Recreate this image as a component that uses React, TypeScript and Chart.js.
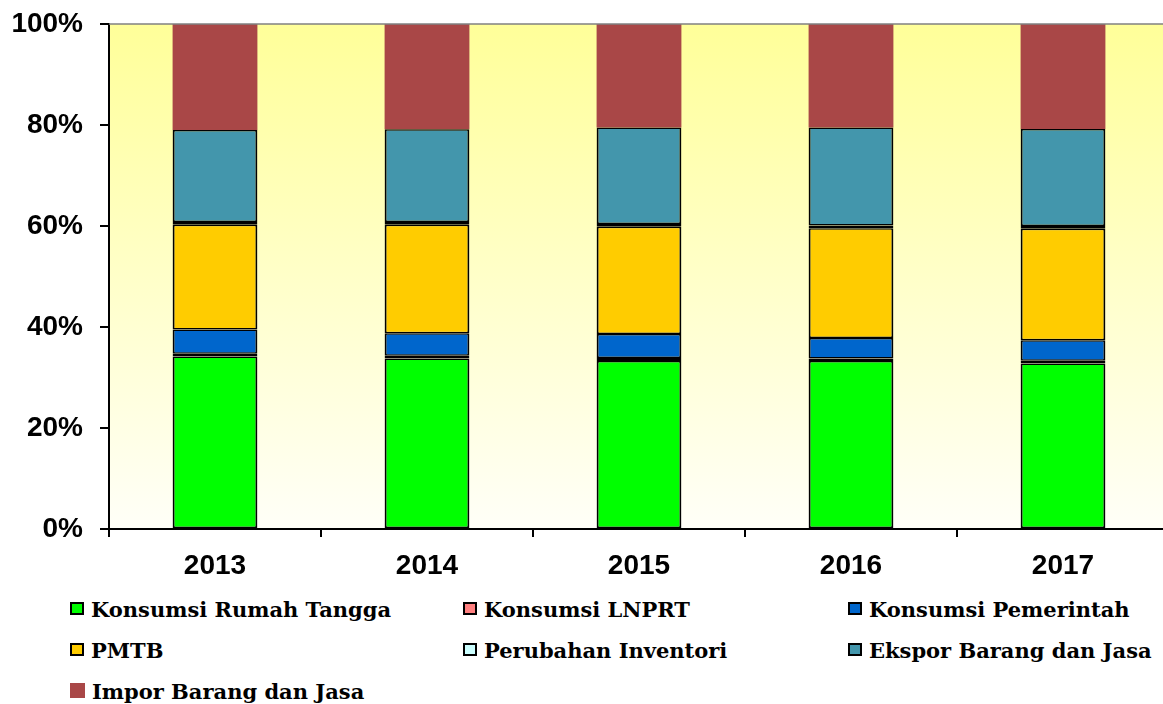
import React, { useEffect, useRef } from "react";
import { Chart, registerables } from "chart.js";

Chart.register(...registerables);

const years = ["2013", "2014", "2015", "2016", "2017"];
const rumahTangga = [34.15, 33.75, 33.25, 33.25, 32.75];
const lnprt = [0.55, 0.55, 0.6, 0.5, 0.55];
const pemerintah = [4.8, 4.45, 4.75, 4.05, 4.1];
const pmtb = [20.75, 21.5, 21.25, 21.75, 22.05];
const inventori = [0.55, 0.55, 0.55, 0.55, 0.55];
const ekspor = [18.2, 18.35, 19.1, 19.4, 19.2];
const impor = [21.0, 20.85, 20.5, 20.5, 20.8];
const yTicks = [0, 20, 40, 60, 80, 100];

const seriesNames = [
  "Konsumsi Rumah Tangga",
  "Konsumsi LNPRT",
  "Konsumsi Pemerintah",
  "PMTB",
  "Perubahan Inventori",
  "Ekspor Barang dan Jasa",
  "Impor Barang dan Jasa",
];
const seriesData = [rumahTangga, lnprt, pemerintah, pmtb, inventori, ekspor, impor];
const seriesColors = ["#00FF00", "#FF8080", "#0066CC", "#FFCC00", "#CCFFFF", "#4396AC", "#A94747"];
const seriesBorder = [true, true, true, true, true, true, false];
const seriesSmall = [false, true, false, false, true, false, false];

const bgPlugin = {
  id: "plotBg",
  beforeDraw(chart: any) {
    const { ctx, chartArea } = chart;
    if (!chartArea) return;
    const g = ctx.createLinearGradient(0, chartArea.top, 0, chartArea.bottom);
    g.addColorStop(0, "#FFFF99");
    g.addColorStop(1, "#FFFFF8");
    ctx.save();
    ctx.fillStyle = g;
    ctx.fillRect(chartArea.left, chartArea.top, chartArea.right - chartArea.left, chartArea.bottom - chartArea.top);
    ctx.restore();
  },
  afterDraw(chart: any) {
    const { ctx, chartArea } = chart;
    ctx.save();
    ctx.strokeStyle = "#808080";
    ctx.lineWidth = 1.5;
    ctx.beginPath();
    ctx.moveTo(chartArea.left, chartArea.top);
    ctx.lineTo(chartArea.right, chartArea.top);
    ctx.stroke();
    ctx.restore();
  },
};

export default function App() {
  const ref = useRef<HTMLCanvasElement>(null);

  useEffect(() => {
    if (!ref.current) return;
    const chart = new Chart(ref.current, {
      type: "bar",
      data: {
        labels: years,
        datasets: seriesNames.map((name, i) => ({
          label: name,
          data: seriesData[i],
          backgroundColor: seriesColors[i],
          borderColor: "#000000",
          borderWidth: seriesBorder[i]
            ? seriesSmall[i]
              ? 4
              : { top: 1.5, bottom: 1.5, left: 2, right: 2 }
            : 0,
          borderSkipped: false,
          inflateAmount: 0,
          categoryPercentage: 1,
          barPercentage: 0.4,
        })),
      },
      options: {
        responsive: false,
        animation: false,
        events: [],
        layout: { padding: { top: 24, right: 1, left: 0, bottom: 0 } },
        plugins: {
          legend: { display: false },
          tooltip: { enabled: false },
        },
        scales: {
          x: {
            stacked: true,
            border: { display: true, color: "#000", width: 2 },
            grid: {
              display: true,
              offset: true,
              drawOnChartArea: false,
              drawTicks: true,
              tickLength: 8,
              color: "#000",
              lineWidth: 2,
            },
            ticks: {
              color: "#000",
              padding: 12,
              font: { family: "'Liberation Sans', Arial, sans-serif", size: 28, weight: "bold" },
            },
            afterFit(scale: any) {
              scale.height = 61;
            },
          },
          y: {
            stacked: true,
            min: 0,
            max: 100,
            border: { display: true, color: "#000", width: 2 },
            grid: {
              display: true,
              drawOnChartArea: false,
              drawTicks: true,
              tickLength: 9,
              color: "#000",
              lineWidth: 2,
            },
            afterBuildTicks(scale: any) {
              scale.ticks = yTicks.map((v) => ({ value: v }));
            },
            ticks: {
              color: "#000",
              padding: 17,
              callback: (v: any) => v + "%",
              font: { family: "'Liberation Sans', Arial, sans-serif", size: 28, weight: "bold" },
            },
            afterFit(scale: any) {
              scale.width = 109;
              scale.paddingTop = 0;
              scale.paddingBottom = 0;
            },
          },
        },
      },
      plugins: [bgPlugin],
    });
    return () => chart.destroy();
  }, []);

  const colLeft = [70, 463, 848];
  const rowTop = 597;
  const rowGap = 41;

  return (
    <div
      style={{
        position: "absolute",
        left: 0,
        top: 0,
        width: 1163,
        height: 704,
        overflow: "hidden",
        background: "#fff",
      }}
    >
      <canvas ref={ref} width={1170} height={590} style={{ width: 1170, height: 590, display: "block" }} />
      {seriesNames.map((name, i) => {
        const row = Math.floor(i / 3);
        const col = i % 3;
        return (
          <div
            key={name}
            style={{
              position: "absolute",
              left: colLeft[col],
              top: rowTop + row * rowGap,
              height: 26,
              display: "flex",
              alignItems: "center",
              whiteSpace: "nowrap",
              fontFamily: "'DejaVu Serif', serif",
              fontWeight: "bold",
              fontSize: 21,
              color: "#000",
              lineHeight: "26px",
            }}
          >
            <span
              style={{
                display: "inline-block",
                boxSizing: "border-box",
                width: seriesBorder[i] ? 14 : 15,
                height: seriesBorder[i] ? 13 : 15,
                background: seriesColors[i],
                border: seriesBorder[i] ? "2px solid #000" : "none",
                marginRight: 7,
                marginTop: -4,
              }}
            />
            <span>{name}</span>
          </div>
        );
      })}
    </div>
  );
}
